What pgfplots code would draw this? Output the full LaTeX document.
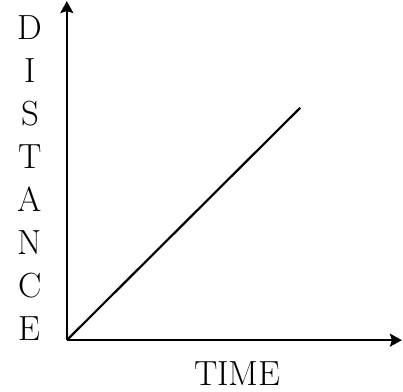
\documentclass[border=0pt]{standalone}
\usepackage{pgfplots}
\pgfplotsset{compat=1.18}
\usetikzlibrary{arrows.meta}
\begin{document}
\begin{tikzpicture}
\begin{axis}[
  at={(0,0)}, anchor=south west,
  scale only axis,
  width=336pt, height=340pt,
  xmin=0, xmax=336, ymin=0, ymax=340,
  axis lines=left,
  axis line style={line width=2.2pt, -{Stealth[length=12pt,width=13pt,inset=2pt]}},
  xtick=\empty, ytick=\empty,
  clip=false,
]
% distance grows linearly with time
\addplot[line width=2.2pt, black] coordinates {(0,0) (234,233)};
\end{axis}
\foreach \l [count=\i from 0] in {E,C,N,A,T,S,I,D}
  \node[anchor=base, inner sep=0pt, font=\fontsize{35}{42}\selectfont] at (-37pt,\i*43pt) {\l};
\node[anchor=base, inner sep=0pt, font=\fontsize{35}{42}\selectfont] at (171pt,-45pt) {TIME};
\useasboundingbox (-67pt,-51pt) rectangle (336pt,340pt);
\end{tikzpicture}
\end{document}
